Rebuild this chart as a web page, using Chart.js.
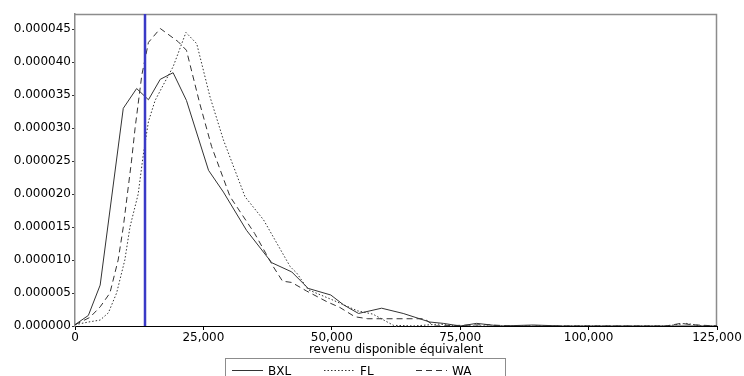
<!DOCTYPE html>
<html>
<head>
<meta charset="utf-8">
<script src="https://cdn.jsdelivr.net/npm/chart.js@4.4.1/dist/chart.umd.min.js"></script>
<style>
  html, body { margin: 0; background: #fff; }
</style>
</head>
<body>
<canvas id="chart" width="744" height="376"></canvas>
<script>
// revenu disponible équivalent (EUR) / densité (x 1e-6)
const bxlX = [0, 2600, 4900, 9400, 12000, 14300, 16600, 19100, 21700, 26000, 28900, 33400, 38300, 42200, 45400, 49800, 52300, 55200, 59700, 63900, 69100, 71700, 75000, 78200, 82800, 89200, 95000, 125000]
const bxlY = [0.2, 1.6, 6.2, 33, 36, 34.3, 37.4, 38.4, 34.2, 23.6, 20.3, 14.5, 9.6, 8.2, 5.7, 4.7, 3.2, 1.9, 2.7, 1.9, 0.6, 0.4, 0, 0.4, 0, 0.15, 0, 0]

const flX = [0, 2600, 4900, 6500, 8100, 9700, 10700, 12300, 13300, 14300, 15600, 17500, 19100, 21600, 23700, 26300, 28900, 33100, 36700, 41900, 43200, 45400, 50000, 55000, 58000, 62000, 66000, 71000, 74000, 115000, 119000, 122000, 125000]
const flY = [0.2, 0.6, 0.9, 2, 5, 10, 15, 20, 26, 31, 34.2, 37, 39.3, 44.5, 42.8, 34.7, 28.2, 19.6, 16.1, 9, 8, 5.5, 4.0, 2.3, 1.8, 0.1, 0, 0.3, 0, 0, 0.4, 0, 0]

const waX = [0, 2900, 4900, 6800, 8400, 9400, 10200, 11000, 11700, 13000, 14300, 16600, 20100, 21700, 24300, 26600, 30200, 35000, 38600, 40400, 42200, 45100, 49000, 51600, 54500, 57000, 68000, 70000, 80000, 85000, 115000, 118000, 120000, 125000]
const waY = [0.2, 1.3, 2.9, 5, 10, 15, 20, 25, 30, 38, 43, 45.1, 43.1, 41.8, 33.7, 27.2, 19.6, 14, 9, 6.8, 6.6, 5.3, 3.7, 2.8, 1.4, 1.1, 1.1, 0, 0.2, 0, 0, 0.4, 0.2, 0]

const seuil = 13630
const xTicks = [0, 25000, 50000, 75000, 100000, 125000]
const labels = ['BXL', 'FL', 'WA']

const FONT = { family: 'DejaVu Sans', size: 12 }

function pts (xs, ys) {
  return xs.map((x, i) => ({ x: x, y: ys[i] }))
}

// gray frame on top and right of the plot
const frame = {
  id: 'frame',
  beforeDatasetsDraw (chart) {
    const { ctx, chartArea: a } = chart
    ctx.save()
    ctx.strokeStyle = '#8c8c8c'
    ctx.lineWidth = 1.5
    ctx.beginPath()
    ctx.moveTo(a.left, a.top + 0.5)
    ctx.lineTo(a.right - 0.5, a.top + 0.5)
    ctx.lineTo(a.right - 0.5, a.bottom)
    ctx.stroke()
    ctx.restore()
  }
}

// poverty line
const threshold = {
  id: 'threshold',
  afterDatasetsDraw (chart) {
    const { ctx, chartArea: a } = chart
    const px = chart.scales.x.getPixelForValue(seuil)
    ctx.save()
    ctx.strokeStyle = '#3a3ac6'
    ctx.lineWidth = 2.5
    ctx.beginPath()
    ctx.moveTo(px, a.top)
    ctx.lineTo(px, a.bottom)
    ctx.stroke()
    ctx.restore()
  }
}

// framed legend under the axis title
const boxLegend = {
  id: 'boxLegend',
  afterDraw (chart) {
    const ctx = chart.ctx
    ctx.save()
    ctx.strokeStyle = '#8c8c8c'
    ctx.lineWidth = 1
    ctx.strokeRect(225.5, 358.5, 280, 30)
    ctx.font = FONT.size + 'px ' + FONT.family
    ctx.textBaseline = 'middle'
    ctx.fillStyle = '#000'
    chart.data.datasets.forEach((ds, i) => {
      const x0 = 232 + i * 92
      const y = 370.5
      ctx.strokeStyle = ds.borderColor
      ctx.lineWidth = 1
      ctx.setLineDash(ds.borderDash || [])
      ctx.beginPath()
      ctx.moveTo(x0, y)
      ctx.lineTo(x0 + 31, y)
      ctx.stroke()
      ctx.setLineDash([])
      ctx.fillText(ds.label, x0 + 36, y + 1)
    })
    ctx.restore()
  }
}

const common = {
  showLine: true,
  borderColor: '#333',
  borderWidth: 1,
  pointRadius: 0,
  tension: 0,
  fill: false
}

new Chart(document.getElementById('chart'), {
  type: 'scatter',
  data: {
    datasets: [
      { ...common, label: labels[0], data: pts(bxlX, bxlY) },
      { ...common, label: labels[1], data: pts(flX, flY), borderDash: [1.5, 2] },
      { ...common, label: labels[2], data: pts(waX, waY), borderDash: [6, 4] }
    ]
  },
  options: {
    responsive: false,
    animation: false,
    layout: { padding: { left: 0, top: 14, right: 27, bottom: 0 } },
    plugins: { legend: { display: false }, tooltip: { enabled: false } },
    scales: {
      x: {
        type: 'linear',
        min: 0,
        max: 125000,
        afterFit: s => { s.height = 50 },
        afterBuildTicks: s => { s.ticks = xTicks.map(v => ({ value: v })) },
        ticks: {
          color: '#000',
          font: FONT,
          padding: 1,
          maxRotation: 0,
          callback: v => v.toLocaleString('en-US')
        },
        grid: { drawOnChartArea: false, tickLength: 4, color: '#000' },
        border: { color: '#000', width: 1 },
        title: {
          display: true,
          text: 'revenu disponible équivalent',
          color: '#000',
          font: FONT,
          padding: { top: 0, bottom: 19 }
        }
      },
      y: {
        min: 0,
        max: 47.3,
        afterFit: s => { s.width = 75 },
        ticks: {
          stepSize: 5,
          includeBounds: false,
          color: '#000',
          font: FONT,
          padding: 1,
          callback: v => (v / 1e6).toFixed(6)
        },
        grid: { drawOnChartArea: false, tickLength: 3, color: '#333' },
        border: { color: '#8c8c8c', width: 1.5 }
      }
    }
  },
  plugins: [frame, threshold, boxLegend]
});
</script>
</body>
</html>
